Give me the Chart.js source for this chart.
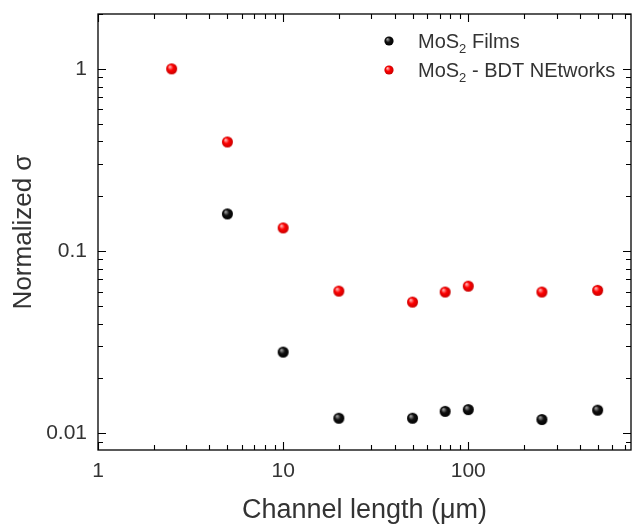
<!DOCTYPE html>
<html>
<head>
<meta charset="utf-8">
<script src="https://cdn.jsdelivr.net/npm/chart.js@4/dist/chart.umd.min.js"></script>
<style>
html,body{margin:0;padding:0;background:#fff;}
#c{display:block;}
</style>
</head>
<body>
<canvas id="c" width="632" height="527"></canvas>
<script>
// ---- data ----
const filmsX = [5, 10, 20, 50, 75, 100, 250, 500];
const filmsY = [0.160, 0.0279, 0.0121, 0.0121, 0.0132, 0.0135, 0.0119, 0.0134];
const networksX = [2.5, 5, 10, 20, 50, 75, 100, 250, 500];
const networksY = [1.0, 0.397, 0.134, 0.0603, 0.0525, 0.0596, 0.0642, 0.0596, 0.0609];
const xTickLabels = ['1', '10', '100'];
const yTickLabels = ['0.01', '0.1', '1'];
const legendLabels = [['MoS', '2', ' Films'], ['MoS', '2', ' - BDT NEtworks']];

const FONT = "Arial, 'Liberation Sans', sans-serif";
const TXT = '#333333';

function sphere(base, light, dark, r) {
  const s = Math.ceil(r * 2) + 2;
  const cv = document.createElement('canvas');
  cv.width = s; cv.height = s;
  const g = cv.getContext('2d');
  const c = s / 2;
  const grad = g.createRadialGradient(c - r * 0.35, c - r * 0.4, r * 0.1, c, c, r);
  grad.addColorStop(0, light);
  grad.addColorStop(0.45, base);
  grad.addColorStop(1, dark);
  g.fillStyle = grad;
  g.beginPath(); g.arc(c, c, r, 0, Math.PI * 2); g.fill();
  return cv;
}
const redBall = sphere('#ff0000', '#ffb0b0', '#c80000', 5.5);
const blackBall = sphere('#111111', '#9a9a9a', '#000000', 5.5);
const redBallL = sphere('#ff0000', '#ffb0b0', '#c80000', 4.6);
const blackBallL = sphere('#111111', '#9a9a9a', '#000000', 4.6);

const framePlugin = {
  id: 'frame',
  afterDraw(chart) {
    const ctx = chart.ctx;
    const a = chart.chartArea;
    const xs = chart.scales.x, ys = chart.scales.y;
    ctx.save();
    ctx.strokeStyle = '#000';
    ctx.lineWidth = 1.3;
    ctx.strokeRect(a.left, a.top, a.right - a.left, a.bottom - a.top);
    ctx.lineWidth = 1.1;
    const ticksFor = (sc) => {
      const out = [];
      for (let e = -4; e <= 4; e++) {
        for (let m = 1; m <= 9; m++) {
          const v = m * Math.pow(10, e);
          if (v >= sc.min && v <= sc.max) out.push({v, major: m === 1});
        }
      }
      return out;
    };
    ctx.beginPath();
    ticksFor(xs).forEach(t => {
      const px = Math.round(xs.getPixelForValue(t.v)) + 0.5;
      const L = t.major ? 8 : 5;
      ctx.moveTo(px, a.bottom); ctx.lineTo(px, a.bottom - L);
      ctx.moveTo(px, a.top); ctx.lineTo(px, a.top + L);
    });
    ticksFor(ys).forEach(t => {
      const py = Math.round(ys.getPixelForValue(t.v)) + 0.5;
      const L = t.major ? 8 : 5;
      ctx.moveTo(a.left, py); ctx.lineTo(a.left + L, py);
      ctx.moveTo(a.right, py); ctx.lineTo(a.right - L, py);
    });
    ctx.stroke();

    // legend with subscripts
    const rows = [
      {img: blackBallL, y: 41, parts: legendLabels[0]},
      {img: redBallL, y: 70, parts: legendLabels[1]}
    ];
    rows.forEach(r => {
      ctx.drawImage(r.img, 389 - r.img.width / 2, r.y - r.img.height / 2);
      ctx.fillStyle = TXT;
      ctx.textBaseline = 'alphabetic';
      let x = 418;
      const base = r.y + 7;
      ctx.font = '20px ' + FONT;
      ctx.fillText(r.parts[0], x, base);
      x += ctx.measureText(r.parts[0]).width;
      ctx.font = '13px ' + FONT;
      ctx.fillText(r.parts[1], x, base + 5);
      x += ctx.measureText(r.parts[1]).width;
      ctx.font = '20px ' + FONT;
      ctx.fillText(r.parts[2], x, base);
    });
    ctx.restore();
  }
};

const isPow10 = (v) => Math.abs(Math.log10(v) - Math.round(Math.log10(v))) < 1e-9;

new Chart(document.getElementById('c'), {
  type: 'scatter',
  data: {
    datasets: [
      {
        label: 'MoS2 Films',
        data: filmsX.map((x, i) => ({x, y: filmsY[i]})),
        pointStyle: blackBall,
        pointRadius: 5,
        backgroundColor: '#000',
        borderColor: '#000'
      },
      {
        label: 'MoS2 - BDT NEtworks',
        data: networksX.map((x, i) => ({x, y: networksY[i]})),
        pointStyle: redBall,
        pointRadius: 5,
        backgroundColor: '#f00',
        borderColor: '#f00'
      }
    ]
  },
  options: {
    responsive: false,
    animation: false,
    layout: {autoPadding: false, padding: {top: 14, right: 1, left: 0, bottom: 0}},
    plugins: {legend: {display: false}, tooltip: {enabled: false}},
    scales: {
      x: {
        type: 'logarithmic',
        min: 1,
        max: 757,
        grid: {display: false, drawTicks: false},
        border: {display: false},
        afterFit(s) { s.height = 77; s.paddingLeft = 0; s.paddingRight = 0; },
        afterBuildTicks(s) {
          s.ticks = s.ticks.filter(t => isPow10(t.value));
        },
        ticks: {
          autoSkip: false,
          maxRotation: 0,
          padding: 9,
          color: TXT,
          font: {family: FONT, size: 21},
          callback: (v) => {
            const i = Math.round(Math.log10(v));
            return xTickLabels[i] !== undefined ? xTickLabels[i] : '';
          }
        },
        title: {
          display: true,
          text: 'Channel length (\u03bcm)',
          color: TXT,
          font: {family: FONT, size: 27},
          padding: {top: 0, bottom: 0}
        }
      },
      y: {
        type: 'logarithmic',
        min: 0.0081,
        max: 2,
        grid: {display: false, drawTicks: false},
        border: {display: false},
        afterFit(s) { s.width = 98; s.paddingTop = 0; s.paddingBottom = 0; },
        afterBuildTicks(s) {
          s.ticks = s.ticks.filter(t => isPow10(t.value));
        },
        ticks: {
          autoSkip: false,
          padding: 11,
          color: TXT,
          font: {family: FONT, size: 21},
          callback: (v) => {
            const i = Math.round(Math.log10(v)) + 2;
            return yTickLabels[i] !== undefined ? yTickLabels[i] : '';
          }
        },
        title: {
          display: true,
          text: 'Normalized \u03c3',
          color: TXT,
          font: {family: FONT, size: 26},
          padding: {top: 8, bottom: 0}
        }
      }
    }
  },
  plugins: [framePlugin]
});
</script>
</body>
</html>
